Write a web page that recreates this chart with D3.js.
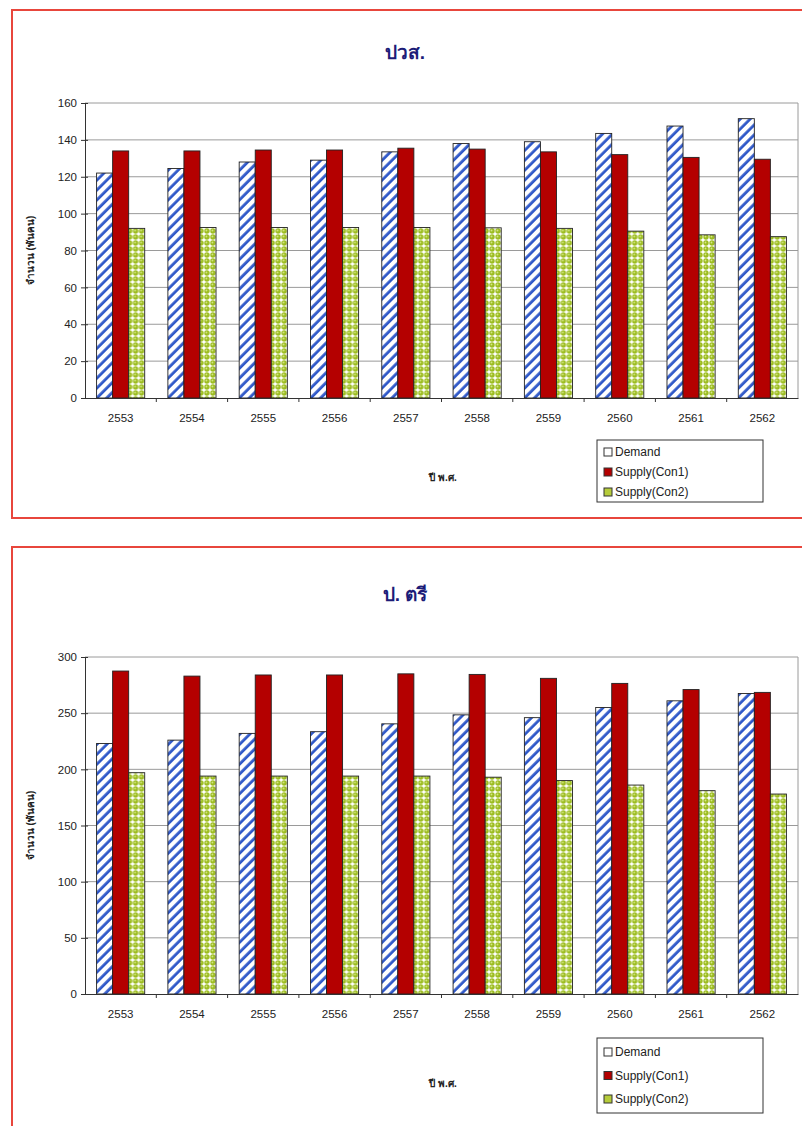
<!DOCTYPE html>
<html><head><meta charset="utf-8">
<script src="https://cdn.jsdelivr.net/npm/d3@7"></script>
<style>
body{margin:0;background:#fff;}
svg{display:block;font-family:"Liberation Sans",Arial,"Noto Sans","DejaVu Sans",sans-serif;}
</style></head>
<body><svg id="c" width="802" height="1126"></svg>
<script>
const years = ["2553","2554","2555","2556","2557","2558","2559","2560","2561","2562"];
const seriesNames = ["Demand","Supply(Con1)","Supply(Con2)"];
// ปวส.
const vocDemand  = [122,124.5,128,129,133.5,138,139,143.5,147.5,151.5];
const vocSupply1 = [134,134,134.5,134.5,135.5,135,133.5,132,130.5,129.5];
const vocSupply2 = [92,92.5,92.5,92.5,92.5,92.3,92,90.5,88.5,87.5];
const vocTicks = [0,20,40,60,80,100,120,140,160];
// ป. ตรี
const bachDemand  = [223,226,232,233.5,240.5,248.5,246,255,261,267.5];
const bachSupply1 = [287.5,283,284,284,285,284.5,281,276.5,271,268.5];
const bachSupply2 = [197,194,194,194,194,193,190,186,181,178];
const bachTicks = [0,50,100,150,200,250,300];

const svg = d3.select("#c");
const defs = svg.append("defs");
// diagonal hatch for Demand
const hatch = defs.append("pattern").attr("id","hatch").attr("patternUnits","userSpaceOnUse")
  .attr("width",7).attr("height",7).attr("patternTransform","rotate(45)");
hatch.append("rect").attr("width",7).attr("height",7).attr("fill","#fff");
hatch.append("line").attr("x1",1.6).attr("y1",0).attr("x2",1.6).attr("y2",7)
  .attr("stroke","#2f58c8").attr("stroke-width",2.8);
// dotted green for Con2
const dots = defs.append("pattern").attr("id","dots").attr("patternUnits","userSpaceOnUse")
  .attr("width",6).attr("height",6);
dots.append("rect").attr("width",6).attr("height",6).attr("fill","#fff");
dots.append("circle").attr("cx",3).attr("cy",3).attr("r",2.7).attr("fill","#9cbc20");
dots.append("circle").attr("cx",2.5).attr("cy",2.5).attr("r",0.9).attr("fill","#d6e98a");

const fills = ["url(#hatch)","#b40000","url(#dots)"];
const legendFills = ["#fff","#b40000","#b6cc3a"];

function drawChart(cfg){
  const g = svg.append("g");
  // frame
  g.append("rect").attr("x",12).attr("y",cfg.frameTop).attr("width",810).attr("height",cfg.frameH)
    .attr("fill","#fff").attr("stroke","#e8463c").attr("stroke-width",2);
  g.append("text").attr("x",405).attr("y",cfg.titleY).attr("text-anchor","middle")
    .attr("font-size",19).attr("font-weight","bold").attr("fill","#1c1c78").text(cfg.title);

  const x0 = d3.scaleBand().domain(years).range([85,798]).paddingInner(0.325).paddingOuter(0.1625);
  const x1 = d3.scaleBand().domain(seriesNames).range([0,x0.bandwidth()]);
  const y = d3.scaleLinear().domain([0,cfg.ticks[cfg.ticks.length-1]]).range([cfg.bottom,cfg.top]);

  // grid
  g.append("g").selectAll("line").data(cfg.ticks.slice(1)).join("line")
    .attr("x1",85).attr("x2",798).attr("y1",d=>y(d)).attr("y2",d=>y(d))
    .attr("stroke","#9a9a9a").attr("stroke-width",1);
  g.append("line").attr("x1",798).attr("x2",798).attr("y1",cfg.top).attr("y2",cfg.bottom)
    .attr("stroke","#9a9a9a");

  // bars
  const data = years.map((yr,i)=>({yr, vals: cfg.series.map((s,j)=>({name:seriesNames[j],v:s[i],j}))}));
  const grp = g.append("g").selectAll("g").data(data).join("g")
    .attr("transform",d=>`translate(${x0(d.yr)},0)`);
  grp.selectAll("rect").data(d=>d.vals).join("rect")
    .attr("x",d=>x1(d.name)).attr("width",x1.bandwidth())
    .attr("y",d=>y(d.v)).attr("height",d=>cfg.bottom-y(d.v))
    .attr("fill",d=>fills[d.j]).attr("stroke","#222").attr("stroke-width",0.9);

  // y axis
  const ya = g.append("g").attr("transform","translate(85,0)")
    .call(d3.axisLeft(y).tickValues(cfg.ticks).tickSize(4).tickPadding(4));
  ya.select(".domain").attr("stroke","#333");
  ya.selectAll(".tick line").attr("stroke","#333").attr("x2",-4).attr("x1",3);
  ya.selectAll("text").attr("font-size",11.5).attr("fill","#222");

  // x axis
  const xa = g.append("g").attr("transform",`translate(0,${cfg.bottom})`)
    .call(d3.axisBottom(x0).tickSize(0).tickPadding(16));
  xa.select(".domain").attr("stroke","#333");
  xa.selectAll("text").attr("font-size",11.5).attr("fill","#222");
  g.append("g").selectAll("line").data(years.slice(1)).join("line")
    .attr("x1",d=>x0(d)-x0.step()*x0.paddingInner()/2).attr("x2",d=>x0(d)-x0.step()*x0.paddingInner()/2)
    .attr("y1",cfg.bottom).attr("y2",cfg.bottom+4).attr("stroke","#333");

  // axis titles
  g.append("text").attr("transform",`translate(34,${(cfg.top+cfg.bottom)/2}) rotate(-90)`)
    .attr("text-anchor","middle").attr("font-size",10).attr("font-weight","bold").attr("fill","#222")
    .text("จำนวน (พันคน)");
  g.append("text").attr("x",443).attr("y",cfg.xTitleY).attr("text-anchor","middle")
    .attr("font-size",10).attr("font-weight","bold").attr("fill","#222").text("ปี พ.ศ.");

  // legend
  const L = cfg.legend;
  g.append("rect").attr("x",597).attr("y",L.y).attr("width",166).attr("height",L.h)
    .attr("fill","#fff").attr("stroke","#333").attr("stroke-width",1);
  const li = g.append("g").selectAll("g").data(seriesNames).join("g")
    .attr("transform",(d,i)=>`translate(604,${L.y+L.first+i*L.gap})`);
  li.append("rect").attr("x",0).attr("y",-4).attr("width",8).attr("height",8)
    .attr("fill",(d,i)=>legendFills[i]).attr("stroke","#333").attr("stroke-width",1);
  li.append("text").attr("x",11).attr("y",4).attr("font-size",12).attr("fill","#222").text(d=>d);
}

drawChart({title:"ปวส.", frameTop:10, frameH:508, titleY:59, top:103, bottom:398,
  ticks:vocTicks, series:[vocDemand,vocSupply1,vocSupply2], xTitleY:481,
  legend:{y:440,h:62,first:12,gap:20}});
drawChart({title:"ป. ตรี", frameTop:547, frameH:600, titleY:601, top:657, bottom:994,
  ticks:bachTicks, series:[bachDemand,bachSupply1,bachSupply2], xTitleY:1087,
  legend:{y:1038,h:75,first:14,gap:23.5}});
</script></body></html>
